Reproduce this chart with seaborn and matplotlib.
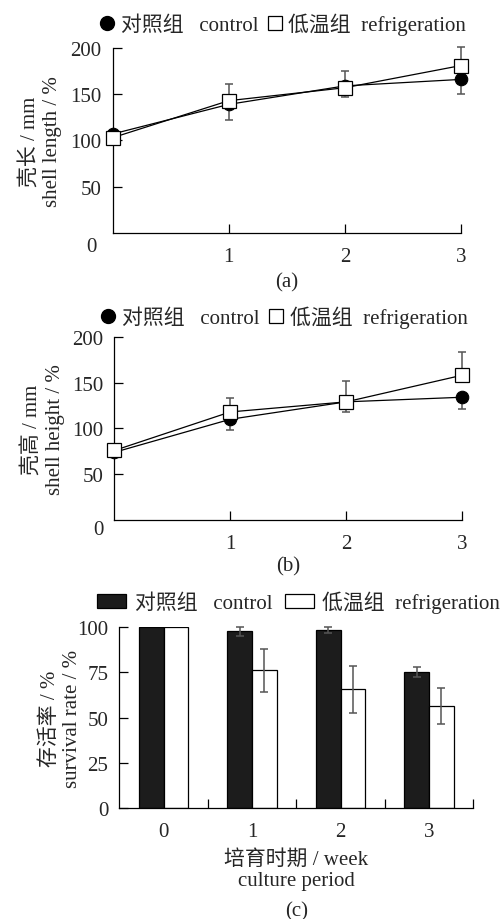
import numpy as np
import pandas as pd
import matplotlib
matplotlib.use("Agg")
from matplotlib import pyplot as plt
from matplotlib.lines import Line2D
from matplotlib.patches import Patch
import seaborn as sns

sns.set_theme(style="ticks")
plt.rcParams["font.family"] = ["Liberation Serif", "Noto Sans CJK SC"]
plt.rcParams["axes.unicode_minus"] = False
plt.rcParams["font.size"] = 15

# ---- data ----
weeks = [0, 1, 2, 3]
week_labels = ["0", "1", "2", "3"]
lab_control = "对照组   control"
lab_refrig = "低温组  refrigeration"

# (a) shell length, %  (control bars drawn downward, refrigeration upward)
length_control = [107, 139, 159, 166]
length_control_err = [3, 17, 12, 16]
length_refrig = [103, 143, 157, 181]
length_refrig_err = [3, 18, 18, 20]

# (b) shell height, %
height_control = [74, 110, 129, 134]
height_control_err = [3, 12, 11, 13]
height_refrig = [76, 118, 129, 158]
height_refrig_err = [3, 15, 23, 25]

# (c) survival rate, %
surv_control = [100, 97.4, 98.3, 75.2]
surv_control_err = [0, 2.7, 1.8, 2.7]
surv_refrig = [100, 76.0, 65.5, 56.3]
surv_refrig_err = [0, 12.0, 12.8, 10.0]

fig = plt.figure(figsize=(5.02, 9.2), dpi=100)
ax_a = fig.add_axes([0.2245, 0.7457, 0.694, 0.2011])
ax_b = fig.add_axes([0.2277, 0.4334, 0.6932, 0.1996])
ax_c = fig.add_axes([0.2377, 0.1203, 0.705, 0.1974])

err_col = "#555555"


def style_axis(ax):
    sns.despine(ax=ax)
    for s in ["left", "bottom"]:
        ax.spines[s].set_linewidth(0.9)
        ax.spines[s].set_color("black")
    ax.tick_params(axis="both", which="both", direction="in", length=6.5,
                   width=0.9, color="black", labelsize=15)
    ax.tick_params(axis="y", pad=8)


def line_panel(ax, yc, yc_err, yr, yr_err, ylabel, tag, legend_y, label_x, zero_off):
    zeros = np.zeros(len(weeks))
    ax.errorbar(weeks, yc, yerr=[yc_err, zeros], fmt="none", ecolor=err_col,
                elinewidth=1.1, capsize=3, capthick=1.1, zorder=2.5, clip_on=False)
    ax.errorbar(weeks, yr, yerr=[zeros, yr_err], fmt="none", ecolor=err_col,
                elinewidth=1.1, capsize=3, capthick=1.1, zorder=2.5, clip_on=False)
    sns.lineplot(x=weeks, y=yc, ax=ax, color="black", lw=0.9, marker="o",
                 markersize=9, markerfacecolor="black", markeredgecolor="black",
                 markeredgewidth=0.8, errorbar=None, clip_on=False, zorder=3)
    sns.lineplot(x=weeks, y=yr, ax=ax, color="black", lw=0.9, marker="s",
                 markersize=9.5, markerfacecolor="white", markeredgecolor="black",
                 markeredgewidth=0.9, errorbar=None, clip_on=False, zorder=4)
    ax.set_xlim(0, 3)
    ax.set_ylim(0, 200)
    ax.set_xticks([1, 2, 3])
    ax.set_yticks([50, 100, 150, 200])
    style_axis(ax)
    ax.tick_params(axis="x", pad=10)
    ax.annotate("0", xy=(0, 0), xytext=zero_off, textcoords="offset points",
                ha="center", va="center", fontsize=15, annotation_clip=False)
    ax.set_ylabel(ylabel, fontsize=15, linespacing=1.2)
    ax.yaxis.set_label_coords(label_x, 0.5)
    ax.text(0.5, tag[1], tag[0], transform=ax.transAxes, ha="center",
            va="center", fontsize=15)
    handles = [
        Line2D([], [], ls="none", marker="o", ms=10, mfc="black", mec="black"),
        Line2D([], [], ls="none", marker="s", ms=10, mfc="white", mec="black", mew=0.9),
    ]
    ax.legend(handles, [lab_control, lab_refrig], loc="center",
              bbox_to_anchor=(0.49, legend_y), ncol=2, frameon=False,
              fontsize=15, handlelength=0.6, handletextpad=0.35,
              columnspacing=0.5, borderpad=0, borderaxespad=0)


line_panel(ax_a, length_control, length_control_err, length_refrig,
           length_refrig_err, "壳长 / mm\nshell length / %", ("(a)", -0.265),
           1.13, -0.146, (-15.6, -9.4))
line_panel(ax_b, height_control, height_control_err, height_refrig,
           height_refrig_err, "壳高 / mm\nshell height / %", ("(b)", -0.249),
           1.107, -0.143, (-11.7, -6.3))

# ---- (c) survival bars ----
df = pd.DataFrame({
    "week": week_labels * 2,
    "rate": surv_control + surv_refrig,
    "group": [lab_control] * 4 + [lab_refrig] * 4,
})
bar_colors = {lab_control: "#1c1c1c", lab_refrig: "white"}
sns.barplot(data=df, x="week", y="rate", hue="group", order=week_labels,
            hue_order=[lab_control, lab_refrig], palette=bar_colors,
            width=0.56, errorbar=None, edgecolor="black", linewidth=0.9,
            legend=False, ax=ax_c)
for cont, errs in zip(ax_c.containers, [surv_control_err, surv_refrig_err]):
    pts = [(b.get_x() + b.get_width() / 2, b.get_height(), e)
           for b, e in zip(cont, errs) if e > 0]
    xs, hs, es = zip(*pts)
    ax_c.errorbar(xs, hs, yerr=es, fmt="none", ecolor=err_col,
                  elinewidth=1.1, capsize=3, capthick=1.1, zorder=3, clip_on=False)

ax_c.set_xlim(-0.5, 3.5)
ax_c.set_ylim(0, 100)
ax_c.set_yticks([0, 25, 50, 75, 100])
ax_c.set_xticks([0, 1, 2, 3])
ax_c.set_xticks([0.5, 1.5, 2.5, 3.5], minor=True)
style_axis(ax_c)
ax_c.tick_params(axis="x", which="major", length=0, pad=10)
ax_c.set_xlabel("")
ax_c.set_ylabel("存活率 / %\nsurvival rate / %", fontsize=15, linespacing=1.2)
ax_c.yaxis.set_label_coords(-0.106, 0.5)
ax_c.text(0.5, -0.337, "培育时期 / week\nculture period", transform=ax_c.transAxes,
          ha="center", va="center", fontsize=15, linespacing=1.2)
ax_c.text(0.5, -0.566, "(c)", transform=ax_c.transAxes, ha="center",
          va="center", fontsize=15)
bar_handles = [Patch(facecolor="#1c1c1c", edgecolor="black", lw=0.9),
               Patch(facecolor="white", edgecolor="black", lw=0.9)]
ax_c.legend(bar_handles, [lab_control, lab_refrig], loc="center",
            bbox_to_anchor=(0.507, 1.136), ncol=2, frameon=False, fontsize=15,
            handlelength=1.4, handleheight=0.65, handletextpad=0.4,
            columnspacing=0.6, borderpad=0, borderaxespad=0)

plt.savefig("out.png", dpi=100)
